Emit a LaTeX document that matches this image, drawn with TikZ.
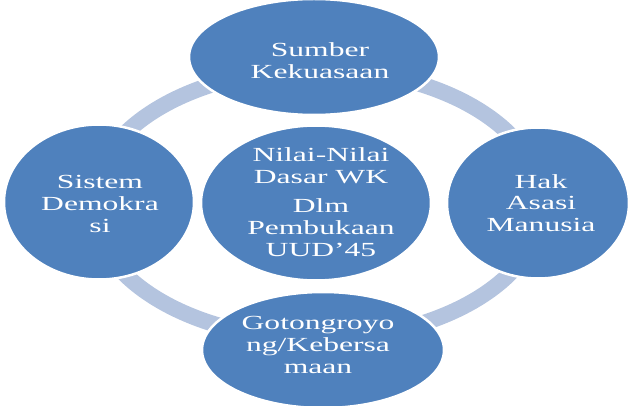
\documentclass[tikz,border=0pt]{standalone}
\usepackage{fontspec}
\setmainfont{Liberation Serif}
\usepackage{graphicx}
\usetikzlibrary{shapes.geometric}
\definecolor{blobblue}{RGB}{79,129,189}
\definecolor{ringblue}{RGB}{180,196,223}
\newcommand{\wide}[1]{\scalebox{1.58}[1]{#1}}

\begin{document}
\begin{tikzpicture}[
  x = 1pt, y = -1pt,
  blob/.style = {ellipse,draw=white,line width=2.5pt,fill=blobblue,inner sep=0pt},
  txt/.style = {text=white,align=center,font=\fontsize{20}{21.7}\selectfont}
  ]
  \useasboundingbox (0,0) rectangle (629,406);
  \coordinate (@hub) at (317,204);
  \draw[ringblue,line width=16pt] (@hub) ellipse [x radius=225pt, y radius=135pt];

  \node[blob,minimum width=250pt,minimum height=116pt,
    label={[txt,xshift=6pt,yshift=-4pt]center:\wide{Sumber}\\\wide{Kekuasaan}}] (@top) at (314,57) {};
  \node[blob,minimum width=190pt,minimum height=155pt,
    label={[txt,xshift=1pt,yshift=-2pt]center:\wide{Sistem}\\\wide{Demokra}\\\wide{si}}] (@left) at (99,202) {};
  \node[blob,minimum width=230pt,minimum height=155pt,
    label={[txt,xshift=5pt,yshift=1pt]center:\wide{Nilai-Nilai}\\\wide{Dasar WK}\\[8pt]\wide{Dlm}\\\wide{Pembukaan}\\\wide{UUD’45}}] (@mid) at (316,203) {};
  \node[blob,minimum width=182pt,minimum height=151pt,
    label={[txt,xshift=3pt,yshift=0pt]center:\wide{Hak}\\\wide{Asasi}\\\wide{Manusia}}] (@right) at (538,203) {};
  \node[blob,minimum width=242pt,minimum height=116pt,
    label={[txt,xshift=-5pt,yshift=5pt]center:\wide{Gotongroyo}\\\wide{ng/Kebersa}\\\wide{maan}}] (@bottom) at (323,350) {};
\end{tikzpicture}
\end{document}
